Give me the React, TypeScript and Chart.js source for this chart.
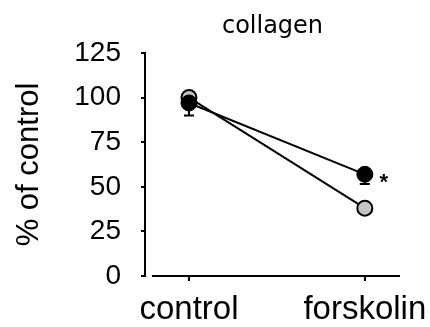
import React, { useEffect, useRef } from "react";
import { Chart, registerables } from "chart.js";

Chart.register(...registerables);

const categories = ["control", "forskolin"];
const blackValues = [97, 57];
const blackErrors = [7, 5.5];
const greyValues = [100, 38];
const yTickValues = [0, 25, 50, 75, 100, 125];
const titleText = "collagen";
const yTitleText = "% of control";
const markText = "*";

const extrasPlugin = {
  id: "extras",
  beforeDatasetsDraw(chart: any) {
    const ctx = chart.ctx;
    const y = chart.scales.y;
    const meta = chart.getDatasetMeta(0);
    ctx.save();
    ctx.strokeStyle = "#000";
    ctx.lineWidth = 2;
    meta.data.forEach((pt: any, i: number) => {
      const low = y.getPixelForValue(blackValues[i] - blackErrors[i]);
      ctx.beginPath();
      ctx.moveTo(pt.x, pt.y);
      ctx.lineTo(pt.x, low);
      ctx.moveTo(pt.x - 5, low);
      ctx.lineTo(pt.x + 5, low);
      ctx.stroke();
    });
    ctx.restore();
  },
  afterDraw(chart: any) {
    const ctx = chart.ctx;
    const area = chart.chartArea;
    const y = chart.scales.y;
    const y0 = y.getPixelForValue(0);
    ctx.save();
    ctx.strokeStyle = "#000";
    ctx.lineWidth = 2;
    ctx.beginPath();
    ctx.moveTo(area.left + 7, y0);
    ctx.lineTo(area.right, y0);
    ctx.stroke();
    const meta = chart.getDatasetMeta(0);
    const pt = meta.data[1];
    ctx.fillStyle = "#000";
    ctx.font = "bold 22px 'Liberation Sans', Arial, sans-serif";
    ctx.textAlign = "center";
    ctx.textBaseline = "alphabetic";
    ctx.fillText(markText, pt.x + 19, pt.y + 15);
    ctx.restore();
  },
};

export default function App() {
  const ref = useRef<HTMLCanvasElement | null>(null);
  useEffect(() => {
    if (!ref.current) return;
    const chart = new Chart(ref.current, {
      type: "line",
      data: {
        datasets: [
          {
            data: blackValues.map((v, i) => ({ x: i, y: v })),
            borderColor: "#000",
            borderWidth: 2,
            pointBackgroundColor: "#000",
            pointBorderColor: "#000",
            pointBorderWidth: 1,
            pointRadius: 8,
          },
          {
            data: greyValues.map((v, i) => ({ x: i, y: v })),
            borderColor: "#000",
            borderWidth: 2,
            pointBackgroundColor: "#c4c4c4",
            pointBorderColor: "#000",
            pointBorderWidth: 2,
            pointRadius: 7.5,
          },
        ],
      },
      options: {
        animation: false,
        responsive: true,
        maintainAspectRatio: false,
        layout: { padding: { left: 0, right: 30, top: 0, bottom: 0 } },
        plugins: {
          legend: { display: false },
          tooltip: { enabled: false },
          title: {
            display: true,
            text: titleText,
            fullSize: false,
            color: "#000",
            font: { family: "'DejaVu Sans', sans-serif", size: 24, weight: "normal" },
            padding: { top: 12, bottom: 12.2 },
          },
        },
        scales: {
          x: {
            type: "linear",
            min: -0.25,
            max: 1.2,
            afterBuildTicks: (scale: any) => {
              scale.ticks = categories.map((_, i) => ({ value: i }));
            },
            afterFit: (scale: any) => {
              scale.paddingLeft = 0;
              scale.paddingRight = 0;
              scale.height = 51;
            },
            ticks: {
              callback: (v: any) => categories[v],
              color: "#000",
              font: { family: "'Liberation Sans', Arial, sans-serif", size: 33 },
              padding: 9,
              maxRotation: 0,
              autoSkip: false,
            },
            grid: {
              drawOnChartArea: false,
              drawTicks: true,
              tickLength: 5,
              color: "#000",
              lineWidth: 2,
            },
            border: { display: false },
          },
          y: {
            min: 0,
            max: 125,
            afterBuildTicks: (scale: any) => {
              scale.ticks = yTickValues.map((v) => ({ value: v }));
            },
            afterFit: (scale: any) => {
              scale.width = 145;
            },
            ticks: {
              color: "#000",
              font: { family: "'Liberation Sans', Arial, sans-serif", size: 28 },
              padding: 20,
            },
            grid: {
              drawOnChartArea: false,
              drawTicks: true,
              tickLength: 4,
              color: "#000",
              lineWidth: 2,
            },
            border: { display: true, color: "#000", width: 2 },
            title: {
              display: true,
              text: yTitleText,
              color: "#000",
              font: { family: "'Liberation Sans', Arial, sans-serif", size: 31 },
              padding: { top: 11, bottom: 0 },
            },
          },
        },
      },
      plugins: [extrasPlugin],
    });
    return () => chart.destroy();
  }, []);
  return (
    <div style={{ position: "absolute", left: 0, top: 0, width: 430, height: 327, background: "#fff" }}>
      <canvas ref={ref} />
    </div>
  );
}
